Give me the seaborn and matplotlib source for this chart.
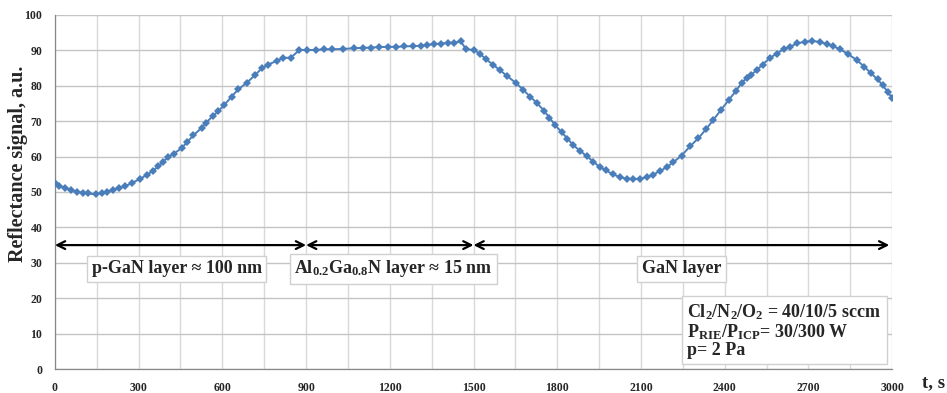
import matplotlib
matplotlib.use("Agg")
import matplotlib.pyplot as plt
import seaborn as sns
import pandas as pd

# time, s
time_s = [0, 16, 36, 56, 78, 99, 119, 146, 167, 188, 209, 231, 251, 275, 305, 329,
          350, 370, 386, 406, 426, 454, 474, 496, 526, 541, 565, 585, 606, 633, 657,
          687, 717, 741, 764, 795, 818, 845, 876, 904, 935, 964, 994, 1033, 1073, 1103,
          1133, 1162, 1192, 1222, 1252, 1282, 1312, 1332, 1360, 1384, 1407, 1431, 1455,
          1473, 1502, 1523, 1545, 1569, 1595, 1621, 1652, 1679, 1703, 1729, 1753, 1772,
          1793, 1816, 1836, 1858, 1882, 1906, 1929, 1953, 1975, 1999, 2025, 2049, 2071,
          2097, 2121, 2144, 2168, 2192, 2216, 2246, 2276, 2306, 2333, 2360, 2386, 2416,
          2441, 2461, 2479, 2493, 2515, 2536, 2563, 2587, 2611, 2634, 2661, 2688, 2714,
          2742, 2766, 2787, 2814, 2843, 2873, 2900, 2925, 2948, 2966, 2984, 3000]

# reflectance signal, a.u.
signal = [52.5, 51.8, 51.1, 50.6, 50.1, 49.8, 49.6, 49.3, 49.7, 50.1, 50.6, 51.1, 51.6,
          52.5, 53.7, 54.8, 55.9, 57.2, 58.4, 59.9, 60.8, 62.4, 64.1, 66.0, 68.1, 69.5,
          71.4, 72.8, 74.5, 76.9, 79.0, 80.8, 83.0, 84.9, 86.0, 87.0, 87.9, 87.9, 90.1,
          90.1, 90.1, 90.3, 90.3, 90.4, 90.6, 90.7, 90.8, 90.9, 91.0, 91.0, 91.1, 91.2,
          91.3, 91.5, 91.8, 91.9, 92.1, 92.2, 92.5, 90.3, 90.1, 89.0, 87.5, 86.0, 84.4,
          82.7, 80.8, 78.8, 76.9, 75.0, 72.9, 71.0, 68.8, 66.9, 65.1, 63.2, 61.6, 60.1,
          58.6, 57.0, 56.1, 55.0, 54.2, 53.7, 53.7, 53.7, 54.2, 54.9, 55.9, 57.0, 58.4,
          60.3, 62.9, 65.2, 67.7, 70.4, 73.1, 76.1, 78.6, 80.8, 82.2, 83.0, 84.4, 86.0,
          87.9, 89.1, 90.3, 91.0, 92.0, 92.4, 92.7, 92.3, 91.8, 91.2, 90.3, 88.9, 87.3,
          85.4, 83.5, 81.8, 80.2, 78.3, 76.6]

# layer boundaries (s) and labels
layer_bounds = [0, 900, 1500, 2990]
layer_labels = ["p-GaN layer ≈ 100 nm",
                "Al$_{0.2}$Ga$_{0.8}$N layer ≈ 15 nm",
                "GaN layer"]
label_x = [437, 1213, 2245]

process_text = ("Cl$_2$/N$_2$/O$_2$ = 40/10/5 sccm\n"
                "P$_{RIE}$/P$_{ICP}$= 30/300 W\n"
                "p= 2 Pa")

x_ticks = list(range(0, 3001, 300))
y_ticks = list(range(0, 101, 10))

df = pd.DataFrame({"t": time_s, "signal": signal})

sns.set_style("white")
plt.rcParams["font.family"] = ["Liberation Serif", "DejaVu Serif"]
plt.rcParams["font.weight"] = "bold"
plt.rcParams["mathtext.fontset"] = "custom"
plt.rcParams["mathtext.rm"] = "Liberation Serif:bold"
plt.rcParams["mathtext.bf"] = "Liberation Serif:bold"
plt.rcParams["mathtext.it"] = "Liberation Serif:bold"
plt.rcParams["mathtext.default"] = "rm"

fig = plt.figure(figsize=(9.47, 3.93), dpi=100)
ax = fig.add_axes([0.058, 0.061, 0.884, 0.901])

# grid
for xv in range(0, 3001, 150):
    ax.axvline(xv, color="#d9d9d9", lw=1, zorder=0)
for yv in y_ticks:
    ax.axhline(yv, color="#c4c4c4", lw=1, zorder=0)

sns.lineplot(data=df, x="t", y="signal", ax=ax, color="#4a7ebb", lw=1.4,
             marker="D", markersize=3.8, markeredgewidth=0, zorder=3)

ax.set_xlim(0, 3000)
ax.set_ylim(0, 100)
ax.set_xticks(x_ticks)
ax.set_xticks(range(0, 3001, 150), minor=True)
ax.set_yticks(y_ticks)
ax.tick_params(axis="both", labelsize=8.5, colors="#262626", length=4,
               width=0.8, color="#888888", pad=5)
ax.tick_params(axis="x", which="minor", length=4, width=0.8, color="#888888")
for lab in ax.get_xticklabels() + ax.get_yticklabels():
    lab.set_fontweight("bold")
ax.set_xlabel("")
ax.set_ylabel("")
for side in ["top", "right"]:
    ax.spines[side].set_visible(False)
for side in ["left", "bottom"]:
    ax.spines[side].set_color("#888888")
    ax.spines[side].set_linewidth(0.9)

# arrows marking the layers
for i in range(len(layer_bounds) - 1):
    ax.annotate("", xy=(layer_bounds[i + 1], 35), xytext=(layer_bounds[i], 35),
                arrowprops=dict(arrowstyle="<->", color="black", lw=1.6,
                                mutation_scale=14, shrinkA=0, shrinkB=0),
                zorder=4)

box = dict(boxstyle="square,pad=0.25", facecolor="white", edgecolor="#d0d0d0", lw=1)
for lx, lab in zip(label_x, layer_labels):
    ax.text(lx, 28.3, lab, ha="center", va="center", fontsize=13,
            fontweight="bold", bbox=box, zorder=5)

ax.text(2266, 10.8, process_text, ha="left", va="center", fontsize=13,
        fontweight="bold", linespacing=1.0,
        bbox=dict(boxstyle="square,pad=0.3", facecolor="white",
                  edgecolor="#d0d0d0", lw=1), zorder=5)

fig.text(0.019, 0.583, "Reflectance signal, a.u.", rotation=90, ha="center",
         va="center", fontsize=14.5, fontweight="bold")
fig.text(0.998, 0.027, "t, s", ha="right", va="center", fontsize=13.5,
         fontweight="bold")

fig.savefig("out.png", dpi=100)
